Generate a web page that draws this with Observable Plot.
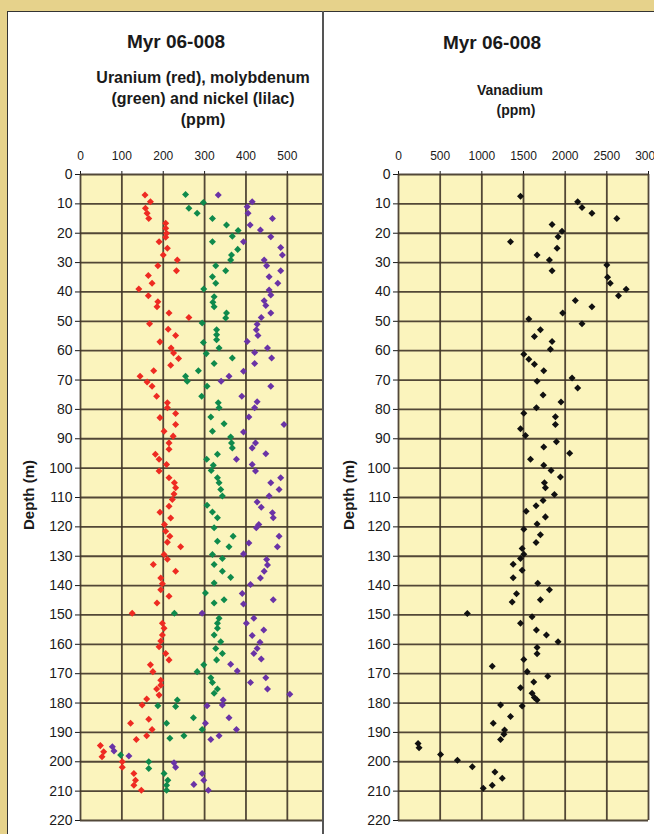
<!DOCTYPE html>
<html>
<head>
<meta charset="utf-8">
<script src="https://cdn.jsdelivr.net/npm/d3@7"></script>
<script src="https://cdn.jsdelivr.net/npm/@observablehq/plot@0.6"></script>
<style>
  html, body { margin: 0; padding: 0; overflow: hidden; background: #e6d28b; }
  #wrap { position: relative; width: 654px; height: 834px; background: #e6d28b; overflow: hidden;
          font-family: "Liberation Sans", Arial, sans-serif; color: #1a1a1a; }
  #panel { position: absolute; left: 7px; top: 11px; width: 700px; height: 900px; background: #fff;
           border-left: 1px solid #333; border-top: 1px solid #333; }
  #divider { position: absolute; left: 322px; top: 11px; width: 2px; height: 830px; background: #555; }
  .t { position: absolute; transform: translate(-50%, -50%); white-space: nowrap; font-weight: bold; }
  .rot { position: absolute; transform: translate(-50%, -50%) rotate(-90deg); white-space: nowrap; font-weight: bold; font-size: 15px; }
  .plot { position: absolute; }
  .plot svg g[aria-label^="y-axis"] text { font-size: 14px; }
</style>
</head>
<body>
<div id="wrap">
  <div id="panel"></div>
  <div id="leftPlot" class="plot" style="left:8px; top:12px;"></div>
  <div id="rightPlot" class="plot" style="left:324px; top:12px;"></div>
  <div id="divider"></div>
  <div class="t" style="left:176px; top:42px; font-size:19px;">Myr 06-008</div>
  <div class="t" style="left:203px; top:78px; font-size:16px;">Uranium (red), molybdenum</div>
  <div class="t" style="left:203px; top:99px; font-size:16px;">(green) and nickel (lilac)</div>
  <div class="t" style="left:203px; top:120px; font-size:16px;">(ppm)</div>
  <div class="t" style="left:492px; top:43px; font-size:19px;">Myr 06-008</div>
  <div class="t" style="left:510px; top:90px; font-size:14px;">Vanadium</div>
  <div class="t" style="left:516px; top:110px; font-size:14px;">(ppm)</div>
  <div class="rot" style="left:28px; top:495px;">Depth (m)</div>
  <div class="rot" style="left:348px; top:495px;">Depth (m)</div>
</div>
<script>
// ---------- data: [depth (m), concentration (ppm)] ----------
const uranium = [
  [7.0,156],[9.3,169],[11.5,157],[13.2,161],[15,165],[16.6,206],[18.3,206],[20,208],[21.4,206],[22.9,190],
  [25.1,210],[27.4,200],[29.1,234],[31.1,187],[32.8,232],[34.4,164],[37,173],[39,141],[41.3,164],[43.3,187],
  [45,185],[47.2,214],[48.7,262],[50.8,167],[52.7,212],[54.8,230],[57,192],[59.1,219],[60.8,225],[62.7,237],
  [65,218],[66.8,177],[68.7,144],[70.7,161],[72.1,173],[75.5,184],[77.7,210],[79.4,210],[81.4,230],[82.8,192],
  [85.1,230],[87.4,202],[89.1,224],[91.4,214],[93.6,214],[95.3,181],[97,190],[98.8,208],[101,190],[103.3,214],
  [105,227],[106.7,230],[108.8,226],[110.7,222],[113,214],[115,192],[117,218],[119.2,203],[121.5,206],[123.2,216],
  [125.2,210],[126.8,242],[129.4,202],[131,210],[132.8,176],[135.1,230],[137.4,194],[139.4,198],[141.4,194],[143.6,214],
  [145.9,185],[149.4,125],[152.8,198],[154.5,202],[156.8,198],[158.9,194],[160.8,190],[163.1,206],[165.3,214],[167,169],
  [169.3,175],[172.2,194],[173.9,194],[175.2,184],[177.3,190],[178.6,160],[180.7,149],[185.5,165],[186.9,121],[189,173],
  [191.1,160],[192.4,135],[194.5,48],[196.6,56],[198.3,52],[200,101],[201.9,101],[204,129],[206.3,133],[208,129],[209.7,147]
];
const molybdenum = [
  [6.8,254],[9.5,297],[11.5,262],[13.2,282],[15,319],[17.2,353],[19.1,381],[21,367],[22.9,319],[25.5,380],
  [27.4,365],[29.1,363],[31.1,327],[32.8,351],[34.8,319],[37,327],[39,298],[41.6,323],[43.5,320],[45,323],
  [47.2,353],[48.9,351],[50.6,294],[52.9,329],[54.6,329],[56.3,329],[57.2,297],[59.1,335],[61,304],[62.5,367],
  [64.4,323],[66.8,285],[68.7,254],[70.4,258],[72.1,306],[75.5,293],[77.7,333],[79.4,335],[82.6,315],[84.9,347],
  [87.4,319],[89.4,363],[91.4,365],[93.1,367],[95.3,331],[97,305],[99,321],[100.8,316],[103.3,331],[105,335],
  [107.3,339],[109.5,343],[112.6,306],[114.9,319],[116.9,331],[120.3,323],[123.2,369],[124.9,331],[126.8,359],[129.4,319],
  [130.8,343],[132.8,323],[135.1,343],[137.2,363],[139.1,323],[142.5,302],[144.8,347],[145.9,323],[149.4,227],[151.1,335],
  [152.8,331],[154.5,331],[156.8,323],[159.1,339],[161.4,327],[163.1,343],[165.3,329],[167,298],[169.3,282],[171.4,315],
  [173,319],[175.2,331],[176.7,323],[179,234],[181.2,230],[180.9,187],[185,273],[186.9,208],[189,294],[191.1,250],
  [192,216],[197.7,97],[200,165],[202.3,165],[204,202],[206.3,211],[208,208],[209.7,208]
];
const nickel = [
  [7.0,333],[9.3,415],[11,403],[13.2,405],[15,464],[17.2,410],[18.9,435],[21.2,460],[22.9,394],[24.9,484],
  [27.4,488],[29.1,444],[31.1,450],[32.8,484],[34.8,456],[37,477],[39.3,456],[41,460],[43,444],[44.6,448],
  [47.2,460],[48.7,437],[51,427],[52.9,425],[54.8,429],[56.9,403],[59.1,452],[60.6,421],[62.5,462],[64.4,421],
  [67,394],[68.7,359],[70.4,340],[72.1,460],[75.5,390],[77.4,427],[79.4,421],[82.6,407],[85.1,492],[87.7,394],
  [91.4,423],[93.1,415],[95.1,448],[97,377],[98.8,415],[101,423],[103.3,484],[105,460],[107.3,480],[109.5,456],
  [111.5,427],[113.3,437],[115.2,464],[116.9,466],[119.2,431],[120.3,425],[123.2,480],[125.5,407],[126.8,476],[129.2,394],
  [131.1,450],[133,452],[135.1,444],[137.4,435],[139.6,411],[142.7,391],[144.8,466],[146.3,394],[149.4,294],[151.1,419],
  [152.8,401],[155.1,443],[157,415],[159.3,434],[161.4,427],[163.1,419],[165,437],[166.8,363],[169.1,379],[171.4,448],
  [173,411],[175.2,452],[177,506],[179,345],[180.7,343],[180.9,306],[185,359],[186.9,302],[189,377],[191.1,335],
  [192.4,315],[194.9,77],[196.3,81],[198,117],[200.3,226],[201.9,230],[204,294],[206.3,298],[207.7,274],[209.7,309]
];
const vanadium = [
  [7.4,1464],[9.3,2150],[11.2,2202],[13.2,2321],[15,2620],[17,1843],[19.3,1962],[21.2,1915],[22.9,1344],[25.1,1903],
  [27.4,1663],[29.1,1811],[30.8,2500],[32.8,1843],[35,2509],[37,2541],[39.1,2732],[41.3,2640],[42.9,2122],[45,2321],
  [47.2,1970],[49.2,1564],[50.8,2202],[52.9,1703],[55.2,1631],[56.9,1843],[59.5,1823],[61.2,1504],[62.9,1564],[64.6,1631],
  [66.8,1743],[69.3,2083],[70.4,1663],[72.7,2150],[75.1,1735],[77.5,1950],[79.4,1655],[81.3,1504],[82.5,1883],[85.1,1883],
  [86.6,1464],[88.9,1524],[91,1895],[92.8,1743],[94.9,2054],[97,1584],[99,1743],[100.8,1831],[103,1943],[105,1751],
  [106.7,1763],[109,1871],[111,1735],[112.8,1651],[114.7,1532],[116.6,1763],[119,1663],[120.8,1504],[122.7,1703],[125.3,1651],
  [127.4,1484],[129.3,1504],[130.8,1464],[132.7,1376],[134.8,1484],[137.3,1376],[139.2,1671],[141.4,1811],[142.8,1416],[144.8,1703],
  [145.6,1364],[149.5,826],[150.6,1603],[152.8,1464],[155.1,1655],[156.8,1775],[159.1,1915],[161.1,1663],[163.2,1663],[165.2,1504],
  [167.5,1125],[169.3,1544],[170.9,1791],[172.8,1623],[174.8,1464],[176.7,1603],[178.1,1631],[179,1663],[181,1484],[180.7,1225],
  [184.6,1344],[186.9,1137],[189.2,1273],[190.6,1265],[192.4,1225],[193.8,235],[195.2,247],[197.5,505],[199.5,707],[201.7,886],
  [203.5,1157],[205.6,1245],[208,1125],[209,1017]
];

// ---------- tick labels ----------
const leftXTicks = [0, 100, 200, 300, 400, 500];
const rightXTicks = [0, 500, 1000, 1500, 2000, 2500, 3000];
const depthTicks = [0,10,20,30,40,50,60,70,80,90,100,110,120,130,140,150,160,170,180,190,200,210,220];

// ---------- styling ----------
const plotBg = "#fbf4bd";
const gridColor = "#3f3427";
const colU = "#ee2b22", colMo = "#0f8a4c", colNi = "#6a33a6", colV = "#111111";

// Excel-like diamond marker (square rotated 45 degrees)
const diamond = {
  draw(ctx, size) {
    const r = Math.sqrt(size / 2);
    ctx.moveTo(0, -r); ctx.lineTo(r, 0); ctx.lineTo(0, r); ctx.lineTo(-r, 0); ctx.closePath();
  }
};

const toRows = (arr) => arr.map(([d, v]) => ({depth: d, value: v}));

const baseStyle = {
  background: "transparent",
  fontFamily: "'Liberation Sans', Arial, sans-serif",
  fontSize: "12px",
  color: "#1a1a1a",
  overflow: "visible"
};

function panel({width, marginLeft, marginRight, xDomain, xTicks, series}) {
  return Plot.plot({
    width,
    height: 822,
    marginLeft,
    marginRight,
    marginTop: 162,
    marginBottom: 14,
    style: baseStyle,
    x: {domain: xDomain, axis: "top", ticks: xTicks, tickFormat: d => String(d), tickSize: 4, tickPadding: 11, label: null},
    y: {domain: [0, 220], reverse: true, ticks: depthTicks, tickSize: 5, tickPadding: 3, label: null},
    marks: [
      Plot.frame({fill: plotBg, stroke: null}),
      Plot.ruleX(xTicks.filter(t => t <= xDomain[1]), {stroke: gridColor, strokeWidth: 1.8, strokeOpacity: 0.9}),
      Plot.ruleY(depthTicks, {stroke: gridColor, strokeWidth: 1.8, strokeOpacity: 0.9}),
      ...series.map(([arr, color]) =>
        Plot.dot(toRows(arr), {x: "value", y: "depth", symbol: diamond, r: 2.8, fill: color, stroke: null}))
    ]
  });
}

document.getElementById("leftPlot").append(panel({
  width: 314, marginLeft: 72, marginRight: 0, xDomain: [0, 585], xTicks: leftXTicks,
  series: [[uranium, colU], [molybdenum, colMo], [nickel, colNi]]
}));
document.getElementById("rightPlot").append(panel({
  width: 330, marginLeft: 74, marginRight: 6, xDomain: [0, 3000], xTicks: rightXTicks,
  series: [[vanadium, colV]]
}));
</script>
</body>
</html>
